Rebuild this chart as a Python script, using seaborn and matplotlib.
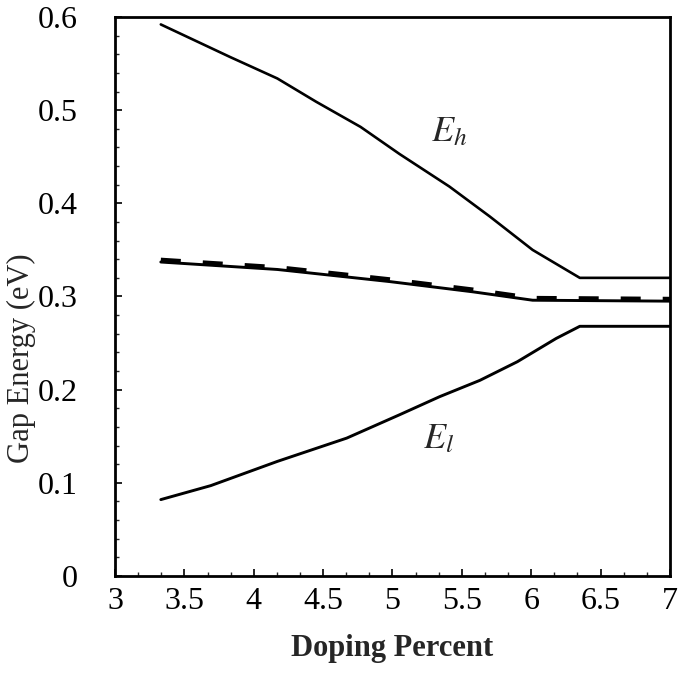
import matplotlib
matplotlib.use("Agg")
import matplotlib.pyplot as plt
from matplotlib.ticker import AutoMinorLocator
import seaborn as sns

# Upper gap E_h
eh_x = [3.33, 3.83, 4.17, 4.45, 4.77, 5.05, 5.41, 5.70, 6.01, 6.35, 7.0]
eh_y = [0.592, 0.557, 0.534, 0.509, 0.482, 0.453, 0.418, 0.386, 0.350, 0.320, 0.320]

# Middle curve (solid) and its dashed companion
mid_x = [3.33, 4.17, 4.98, 5.58, 6.01, 7.0]
mid_y = [0.337, 0.329, 0.316, 0.305, 0.296, 0.295]
dash_x = [3.33, 4.17, 4.98, 5.58, 6.01, 7.0]
dash_y = [0.339, 0.331, 0.318, 0.307, 0.298, 0.297]

# Lower gap E_l
el_x = [3.33, 3.69, 4.17, 4.67, 5.05, 5.34, 5.63, 5.90, 6.18, 6.35, 7.0]
el_y = [0.082, 0.097, 0.123, 0.148, 0.173, 0.1925, 0.210, 0.230, 0.255, 0.268, 0.268]

x_ticks = [3, 3.5, 4, 4.5, 5, 5.5, 6, 6.5, 7]
x_tick_labels = ["3", "3.5", "4", "4.5", "5", "5.5", "6", "6.5", "7"]
y_ticks = [0, 0.1, 0.2, 0.3, 0.4, 0.5, 0.6]
y_tick_labels = ["0", "0.1", "0.2", "0.3", "0.4", "0.5", "0.6"]

sns.set_theme(style="ticks")
plt.rcParams["font.family"] = ["Liberation Serif", "DejaVu Serif"]
plt.rcParams["mathtext.fontset"] = "stix"

fig = plt.figure(figsize=(6.79, 6.74), dpi=100)
ax = fig.add_axes([0.1694, 0.1454, 0.8173, 0.8294])

sns.lineplot(x=eh_x, y=eh_y, ax=ax, color="black", linewidth=1.9, sort=False)
sns.lineplot(x=mid_x, y=mid_y, ax=ax, color="black", linewidth=2.1, sort=False)
dl = sns.lineplot(x=dash_x, y=dash_y, ax=ax, color="black", linewidth=3.6, sort=False)
dl.lines[-1].set_dashes((4, 4.4))
sns.lineplot(x=el_x, y=el_y, ax=ax, color="black", linewidth=2.1, sort=False)

ax.text(5.41, 0.476, r"$E_h$", fontsize=26, ha="center", va="center")
ax.text(5.33, 0.146, r"$E_l$", fontsize=26, ha="center", va="center")

ax.set_xlim(3, 7)
ax.set_ylim(0, 0.6)
ax.set_xticks(x_ticks)
ax.set_xticklabels(x_tick_labels)
ax.set_yticks(y_ticks)
ax.set_yticklabels(y_tick_labels)
ax.xaxis.set_minor_locator(AutoMinorLocator(3))
ax.yaxis.set_minor_locator(AutoMinorLocator(5))
ax.tick_params(axis="both", which="major", direction="in", length=5, width=1.2,
               labelsize=23, colors="black")
ax.tick_params(axis="x", which="major", pad=8)
ax.tick_params(axis="y", which="major", pad=27)
ax.tick_params(axis="both", which="minor", direction="in", length=3, width=1.0)

for s in ax.spines.values():
    s.set_visible(True)
    s.set_linewidth(2.0)
    s.set_color("black")

ax.set_xlabel("Doping Percent", fontsize=22, fontweight="bold", labelpad=13)
ax.set_ylabel("Gap Energy (eV)", fontsize=22)
ax.yaxis.set_label_coords(-0.143, 0.39)

fig.savefig("out.png", dpi=100, facecolor="white")
